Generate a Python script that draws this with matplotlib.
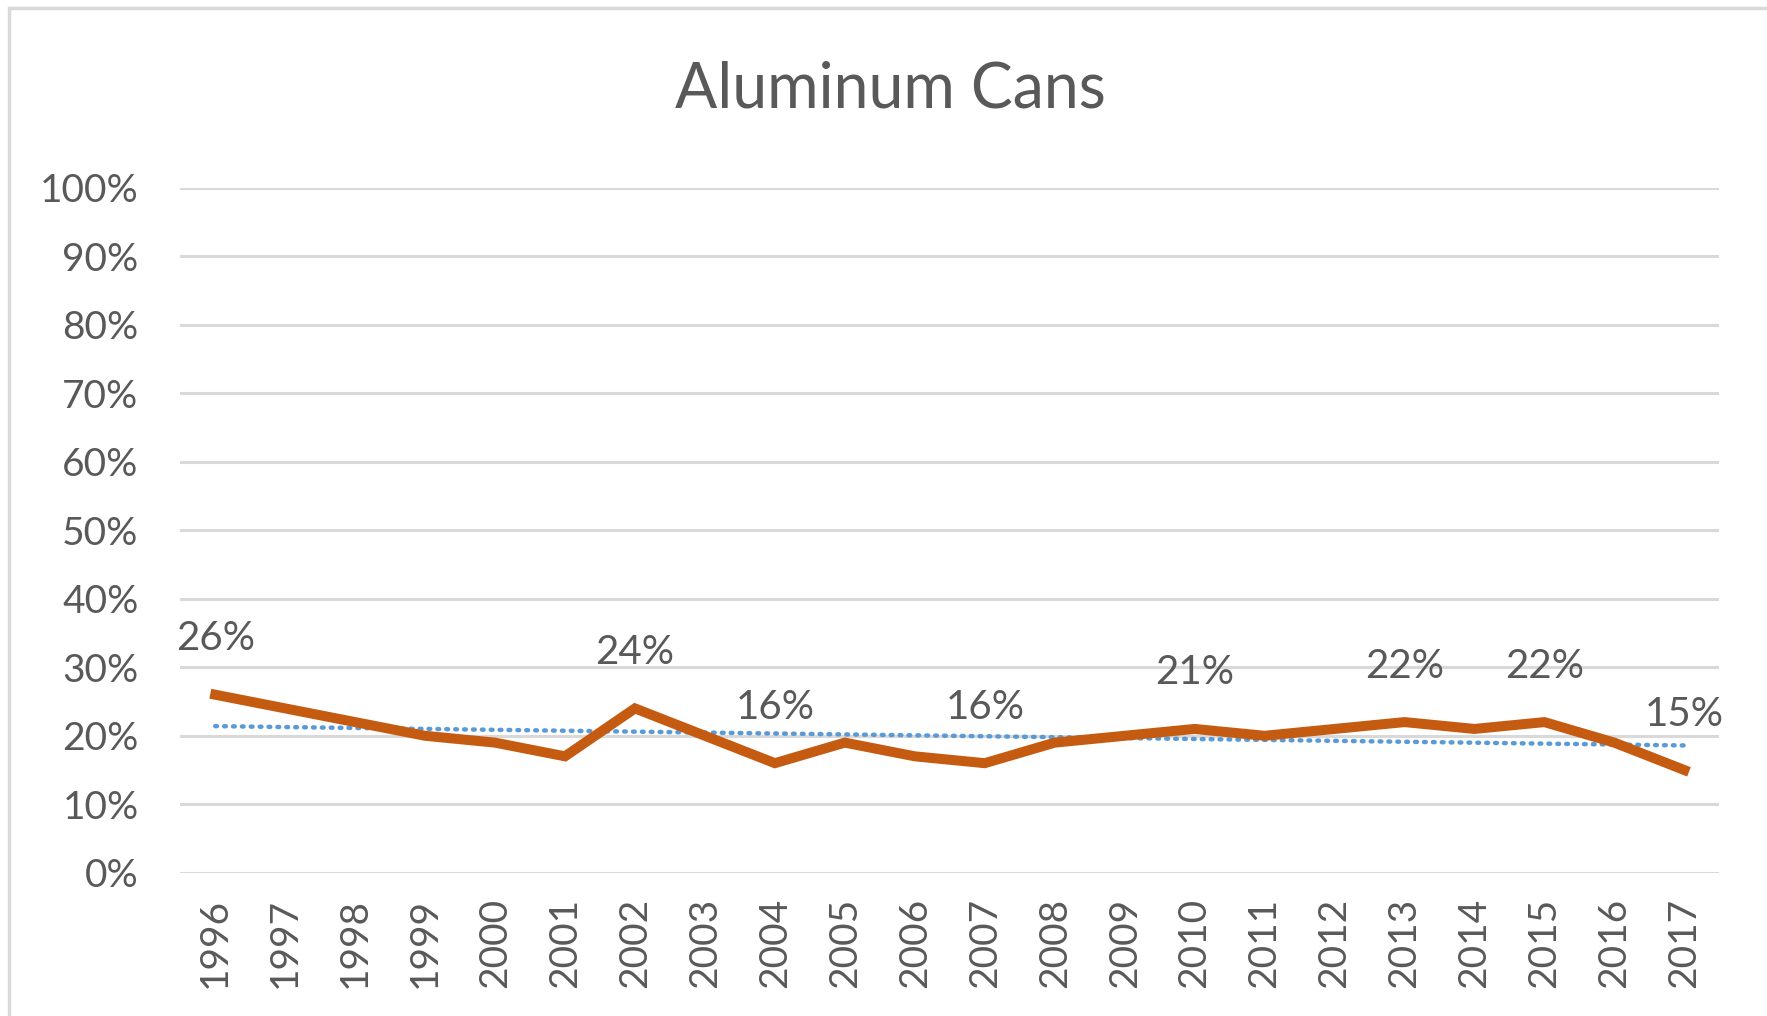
import matplotlib
matplotlib.use("Agg")
import matplotlib.pyplot as plt
import numpy as np
from matplotlib.patches import Rectangle

plt.rcParams['font.family'] = ['Lato', 'DejaVu Sans']

years = ['1996', '1997', '1998', '1999', '2000', '2001', '2002', '2003', '2004', '2005', '2006',
         '2007', '2008', '2009', '2010', '2011', '2012', '2013', '2014', '2015', '2016', '2017']
rates = [26, 24, 22, 20, 19, 17, 24, 20, 16, 19, 17,
         16, 19, 20, 21, 20, 21, 22, 21, 22, 19, 15]
labeled = ['1996', '2002', '2004', '2007', '2010', '2013', '2015', '2017']
title = 'Aluminum Cans'

text_col = '#595959'
grid_col = '#D9D9D9'

fig = plt.figure(figsize=(17.67, 10.16), dpi=100)
ax = fig.add_axes([0.102, 0.141, 0.871, 0.674])

x = np.arange(len(years))
y = np.array(rates) / 100

# linear trendline like excel
k, b = np.polyfit(x + 1, y, 1)
ax.plot(x, k * (x + 1) + b, color='#5B9BD5', lw=3.2, ls=(0, (0.4, 1.6)),
        dash_capstyle='round', zorder=3)
ax.plot(x, y, color='#C55A11', lw=7.2, solid_joinstyle='miter', zorder=4)

for i, yr in enumerate(years):
    if yr in labeled:
        ax.annotate(f'{rates[i]}%', (x[i], y[i]), xytext=(0, 56), textcoords='offset pixels',
                    ha='center', va='center', fontsize=29, color=text_col,
                    annotation_clip=False)

ax.set_xlim(-0.5, len(years) - 0.5)
ax.set_ylim(0, 1)
ax.set_yticks(np.arange(0, 1.01, 0.1))
ax.set_yticklabels([f'{v}%' for v in range(0, 101, 10)])
ax.set_xticks(x)
ax.set_xticklabels(years, rotation=90)
ax.tick_params(axis='both', length=0, labelsize=28, labelcolor=text_col)
ax.tick_params(axis='y', pad=30)
ax.tick_params(axis='x', pad=18)
ax.grid(axis='y', color=grid_col, lw=2.2)
ax.set_axisbelow(True)
for s in ax.spines.values():
    s.set_visible(False)

fig.text(0.504, 0.912, title, ha='center', va='center', fontsize=45, color=text_col)

# chart area border (top/left visible)
fig.patches.append(Rectangle((9 / 1767, -0.05), 1.1, 1.05 - 8 / 1016, transform=fig.transFigure,
                             fill=False, ec=grid_col, lw=2.5))

fig.savefig('out.png', dpi=100)
